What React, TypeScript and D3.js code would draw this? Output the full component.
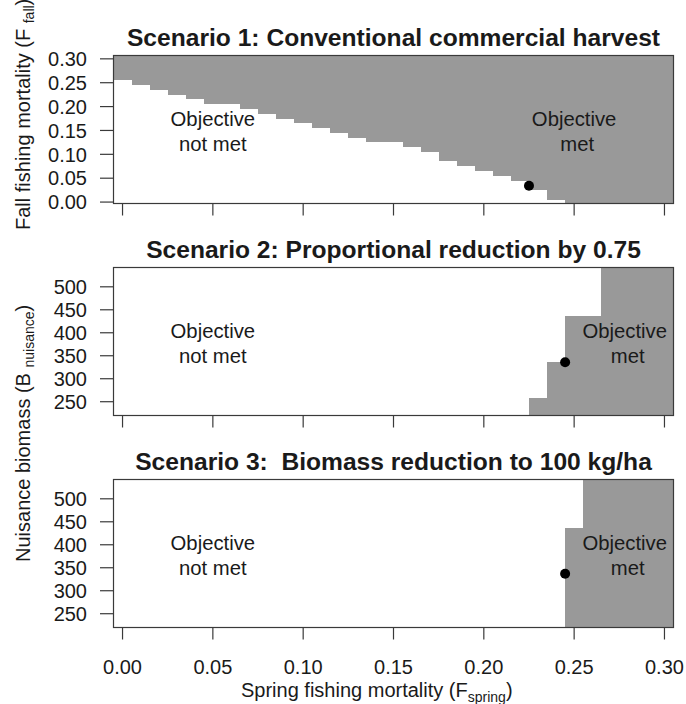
import React from "react";
import * as d3 from "d3";

// ---- data ----
// Spring fishing mortality grid (cell centres)
const springGrid = [
  0.0, 0.01, 0.02, 0.03, 0.04, 0.05, 0.06, 0.07, 0.08, 0.09, 0.1,
  0.11, 0.12, 0.13, 0.14, 0.15, 0.16, 0.17, 0.18, 0.19, 0.2,
  0.21, 0.22, 0.23, 0.24, 0.25, 0.26, 0.27, 0.28, 0.29, 0.3,
];
// Scenario 1: lowest fall F (cell centre) meeting the objective, per spring F
const s1FallMin = [
  0.26, 0.25, 0.24, 0.23, 0.22, 0.21, 0.21, 0.2, 0.19, 0.18, 0.17,
  0.16, 0.15, 0.14, 0.13, 0.13, 0.12, 0.11, 0.09, 0.08, 0.07,
  0.06, 0.05, 0.03, 0.01, 0.0, 0.0, 0.0, 0.0, 0.0, 0.0,
];
// Scenario 2: nuisance biomass bands and lowest spring F meeting objective
const s2BandEdges = [220, 257, 336, 437.5, 542];
const s2SpringMin = [0.23, 0.24, 0.25, 0.27];
// Scenario 3
const s3BandEdges = [220, 437.5, 542];
const s3SpringMin = [0.25, 0.26];
// Current-state points
const s1Point = { spring: 0.225, value: 0.034 };
const s2Point = { spring: 0.245, value: 336 };
const s3Point = { spring: 0.245, value: 337 };

const xTicks = [0, 0.05, 0.1, 0.15, 0.2, 0.25, 0.3];
const fallTicks = [0, 0.05, 0.1, 0.15, 0.2, 0.25, 0.3];
const biomassTicks = [250, 300, 350, 400, 450, 500];
const titles = [
  "Scenario 1: Conventional commercial harvest",
  "Scenario 2: Proportional reduction by 0.75",
  "Scenario 3:  Biomass reduction to 100 kg/ha",
];

const FONT = "'Liberation Sans', Arial, Helvetica, sans-serif";
const GRAY = "#999999";
const INK = "#1a1a1a";
const LINE = "#3a3a3a";
const HALF = 0.005;

const left = 113.5;
const right = 673.5;
const tops = [55.5, 267.5, 479.5];
const H = 148;

const x = d3.scaleLinear().domain([-0.005, 0.305]).range([left, right]);

type Panel = {
  top: number;
  y: d3.ScaleLinear<number, number>;
  ticks: number[];
  fmt: (v: number) => string;
  cells: { x0: number; x1: number; y0: number; y1: number }[];
  point: { spring: number; value: number };
  title: string;
  rightLabelX: number;
  rightLines: string[];
};

function bandCells(edges: number[], springMin: number[]) {
  return springMin.map((s, i) => ({
    x0: s - HALF,
    x1: 0.305,
    y0: edges[i],
    y1: edges[i + 1],
  }));
}

export default function App() {
  const y1 = d3.scaleLinear().domain([-0.003, 0.307]).range([tops[0] + H, tops[0]]);
  const y2 = d3.scaleLinear().domain([220, 542]).range([tops[1] + H, tops[1]]);
  const y3 = d3.scaleLinear().domain([220, 542]).range([tops[2] + H, tops[2]]);

  const s1Cells = springGrid.map((s, i) => ({
    x0: s - HALF,
    x1: s + HALF,
    y0: Math.max(s1FallMin[i] - HALF, -0.003),
    y1: 0.307,
  }));

  const panels: Panel[] = [
    {
      top: tops[0], y: y1, ticks: fallTicks, fmt: d3.format(".2f"),
      cells: s1Cells, point: s1Point, title: titles[0],
      rightLabelX: 0.25, rightLines: ["Objective", "met"],
    },
    {
      top: tops[1], y: y2, ticks: biomassTicks, fmt: d3.format("d"),
      cells: bandCells(s2BandEdges, s2SpringMin), point: s2Point, title: titles[1],
      rightLabelX: 0.278, rightLines: ["Objective", "met"],
    },
    {
      top: tops[2], y: y3, ticks: biomassTicks, fmt: d3.format("d"),
      cells: bandCells(s3BandEdges, s3SpringMin), point: s3Point, title: titles[2],
      rightLabelX: 0.278, rightLines: ["Objective", "met"],
    },
  ];

  return (
    <svg
      width={686}
      height={704}
      style={{ position: "absolute", left: 0, top: 0, background: "#fff" }}
      fontFamily={FONT}
    >
      <rect x={0} y={0} width={686} height={704} fill="#fff" />
      {panels.map((p, pi) => (
        <g key={pi}>
          {/* gray cells */}
          {p.cells.map((c, ci) => (
            <rect
              key={ci}
              x={x(c.x0)}
              y={p.y(c.y1)}
              width={x(c.x1) - x(c.x0) + 0.4}
              height={p.y(c.y0) - p.y(c.y1)}
              fill={GRAY}
              shapeRendering="crispEdges"
            />
          ))}
          {/* labels */}
          <text textAnchor="middle" fontSize={20.3} fill={INK}>
            <tspan x={x(0.05)} y={p.top + 70}>Objective</tspan>
            <tspan x={x(0.05)} y={p.top + 95}>not met</tspan>
          </text>
          <text textAnchor="middle" fontSize={20.3} fill={INK}>
            <tspan x={x(p.rightLabelX)} y={p.top + 70}>{p.rightLines[0]}</tspan>
            <tspan x={x(p.rightLabelX) + 3} y={p.top + 95}>{p.rightLines[1]}</tspan>
          </text>
          {/* point */}
          <circle cx={x(p.point.spring)} cy={p.y(p.point.value)} r={5} fill="#000" />
          {/* box */}
          <rect
            x={left}
            y={p.top}
            width={right - left}
            height={H}
            fill="none"
            stroke={LINE}
            strokeWidth={1.2}
          />
          {/* y ticks */}
          {p.ticks.map((t) => (
            <g key={t}>
              <line x1={100} x2={left} y1={p.y(t)} y2={p.y(t)} stroke={LINE} strokeWidth={1.2} />
              <text x={87} y={p.y(t)} dy="0.36em" textAnchor="end" fontSize={20} fill={INK}>
                {p.fmt(t)}
              </text>
            </g>
          ))}
          {/* x ticks */}
          {xTicks.map((t) => (
            <line
              key={t}
              x1={x(t)}
              x2={x(t)}
              y1={p.top + H}
              y2={p.top + H + 12}
              stroke={LINE}
              strokeWidth={1.2}
            />
          ))}
          {/* title */}
          <text
            x={(left + right) / 2}
            y={p.top - 10}
            textAnchor="middle"
            fontSize={24.6}
            fontWeight="bold"
            fill={INK}
            style={{ whiteSpace: "pre" }}
          >
            {p.title}
          </text>
        </g>
      ))}
      {/* x tick labels (bottom panel) */}
      {xTicks.map((t) => (
        <text key={t} x={x(t)} y={674} textAnchor="middle" fontSize={20} fill={INK}>
          {d3.format(".2f")(t)}
        </text>
      ))}
      {/* x axis title */}
      <text x={241} y={697} fontSize={20} fill={INK}>
        Spring fishing mortality (F
        <tspan fontSize={14} dy={5}>spring</tspan>
        <tspan dy={-5}>)</tspan>
      </text>
      {/* y axis titles */}
      <text transform="translate(29.5,230) rotate(-90)" fontSize={20} fill={INK} style={{ whiteSpace: "pre" }}>
        {"Fall fishing mortality (F "}
        <tspan fontSize={14} dy={4}>fall</tspan>
        <tspan dy={-4}>)</tspan>
      </text>
      <text transform="translate(30,562) rotate(-90)" fontSize={20} fill={INK} style={{ whiteSpace: "pre" }}>
        {"Nuisance biomass (B "}
        <tspan fontSize={14} dy={4}>nuisance</tspan>
        <tspan dy={-4}>)</tspan>
      </text>
    </svg>
  );
}
